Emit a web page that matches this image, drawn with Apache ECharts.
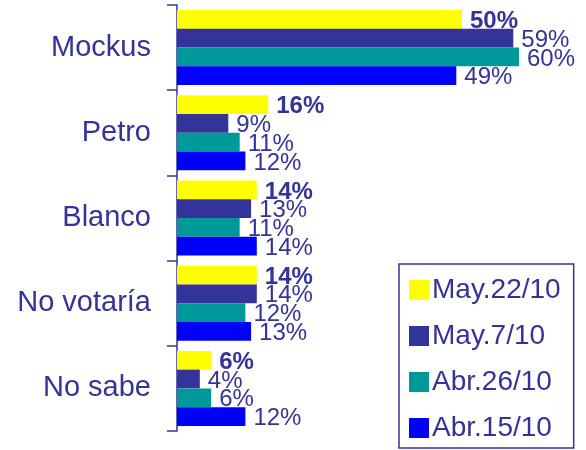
<!DOCTYPE html>
<html>
<head>
<meta charset="utf-8">
<script src="https://cdn.jsdelivr.net/npm/echarts@6/dist/echarts.min.js"></script>
<style>
  html, body { margin: 0; padding: 0; background: #fff; }
  #chart { width: 586px; height: 450px; }
</style>
</head>
<body>
<div id="chart"></div>
<script>
const categories = ['Mockus', 'Petro', 'Blanco', 'No votaría', 'No sabe']
const seriesNames = ['May.22/10', 'May.7/10', 'Abr.26/10', 'Abr.15/10']
const may22 = [50, 16, 14, 14, 6]
const may7 = [59, 9, 13, 14, 4]
const abr26 = [60, 11, 11, 12, 6]
const abr15 = [49, 12, 14, 13, 12]

const ink = '#333399'
const font = '"Liberation Sans", Arial, sans-serif'
const colors = ['#ffff00', '#333399', '#009999', '#0000ff']
const values = [may22, may7, abr26, abr15]

const chart = echarts.init(document.getElementById('chart'))

chart.setOption({
  animation: false,
  textStyle: { fontFamily: font },
  legend: {
    data: seriesNames,
    orient: 'vertical',
    left: 399,
    top: 264,
    padding: [12, 13, 6, 10],
    itemWidth: 20,
    itemHeight: 20,
    itemGap: 18,
    borderColor: ink,
    borderWidth: 1.5,
    icon: 'rect',
    textStyle: { color: ink, fontSize: 28, fontFamily: font, padding: [0, 0, 0, -2] }
  },
  grid: {
    left: 177,
    top: 5,
    bottom: 19,
    right: 67
  },
  xAxis: {
    type: 'value',
    min: 0,
    max: 60,
    show: false
  },
  yAxis: {
    type: 'category',
    inverse: true,
    data: categories,
    axisLine: { lineStyle: { color: ink, width: 1.5 } },
    axisTick: { show: true, inside: false, length: 10, lineStyle: { color: ink, width: 1.5 } },
    axisLabel: { color: ink, fontSize: 29, fontFamily: font, margin: 26 }
  },
  series: seriesNames.map((name, i) => ({
    name: name,
    type: 'bar',
    data: values[i],
    barGap: '0%',
    barCategoryGap: '12%',
    itemStyle: { color: colors[i] },
    label: {
      show: true,
      position: 'right',
      distance: 8,
      offset: [0, 2],
      formatter: '{c}%',
      color: ink,
      fontSize: 24,
      fontFamily: font,
      fontWeight: i === 0 ? 'bold' : 'normal'
    }
  }))
})
</script>
</body>
</html>
